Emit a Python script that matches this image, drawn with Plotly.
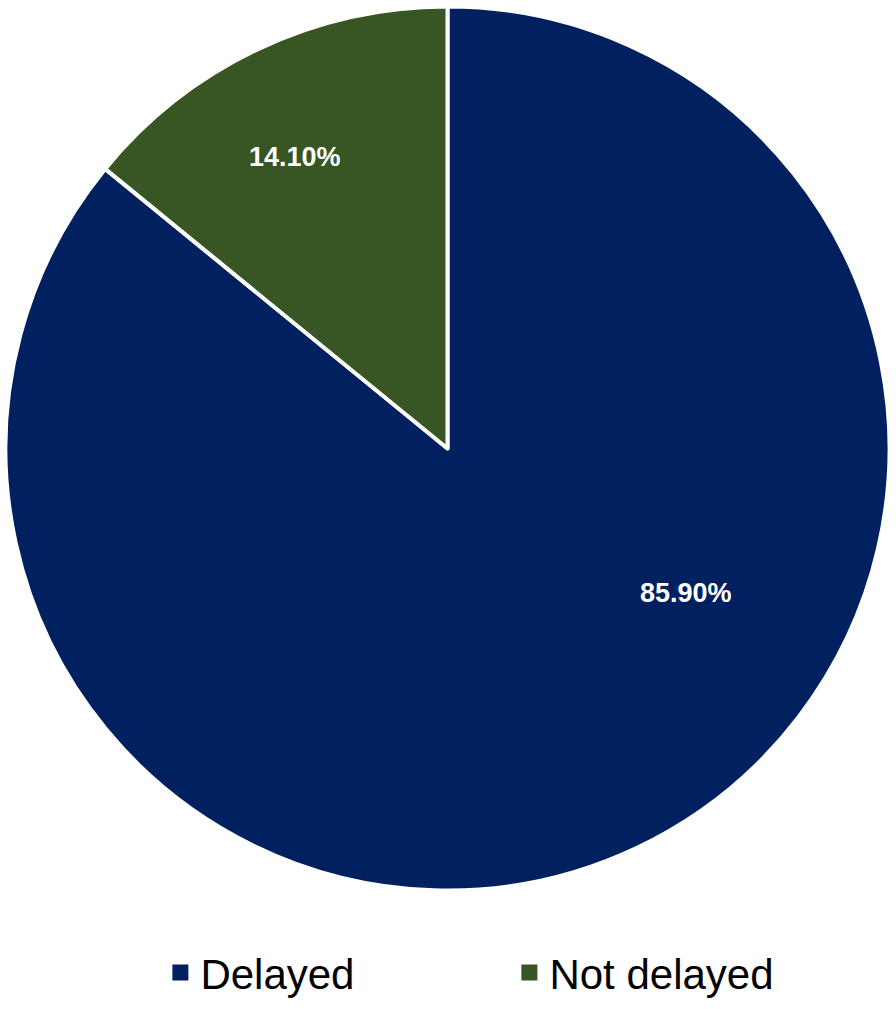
import plotly.graph_objects as go

# share of cases
labels = ["Delayed", "Not delayed"]
values = [85.90, 14.10]
colors = ["#002060", "#375623"]

# where the percentage labels sit (pixels from top-left)
label_pos = [(686, 593), (295, 157)]

W, H = 896, 1009

fig = go.Figure()

fig.add_trace(go.Pie(
    labels=labels,
    values=values,
    sort=False,
    direction="clockwise",
    rotation=0,
    marker=dict(colors=colors, line=dict(color="white", width=4)),
    textinfo="none",
    hoverinfo="label+percent",
    showlegend=False,
    domain=dict(x=[5.5 / W, 889.5 / W], y=[1 - 890.5 / H, 1 - 6.5 / H]),
))

# legend entries with bigger square keys
for lab, col in zip(labels, colors):
    fig.add_trace(go.Scatter(
        x=[None], y=[None], mode="markers", name=lab,
        marker=dict(symbol="square", size=16, color=col),
    ))

for v, (px, py) in zip(values, label_pos):
    fig.add_annotation(
        x=px / W, y=1 - py / H, xref="paper", yref="paper",
        xanchor="center", yanchor="middle",
        text=f"<b>{v:.2f}%</b>", showarrow=False,
        font=dict(family="Liberation Sans", size=27, color="white"),
    )

fig.update_layout(
    width=W, height=H,
    margin=dict(l=0, r=0, t=0, b=0, autoexpand=False),
    paper_bgcolor="white",
    plot_bgcolor="white",
    xaxis=dict(visible=False),
    yaxis=dict(visible=False),
    showlegend=True,
    legend=dict(
        orientation="h",
        x=0.179, xanchor="left",
        y=0.036, yanchor="middle",
        font=dict(family="Liberation Sans", size=42, color="black"),
        entrywidth=304,
    ),
)

# drop the browser's default 8px body margin so the figure sits at 0,0
fig.write_html("out.html", config={"displayModeBar": False},
               post_script="document.body.style.margin='0';")
